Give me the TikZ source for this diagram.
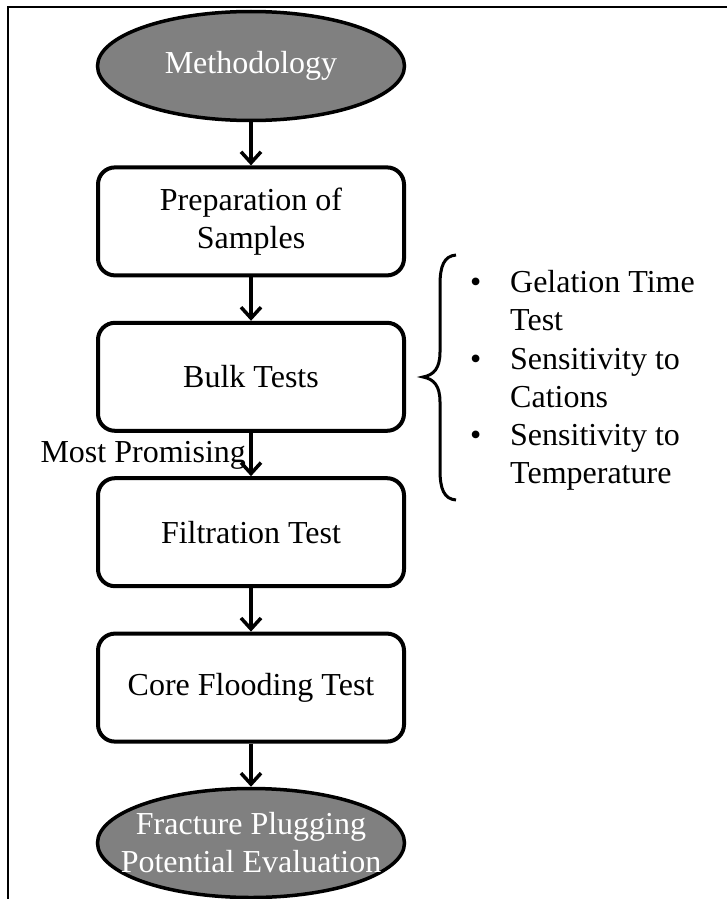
\documentclass[tikz,border=0pt]{standalone}
\usepackage{fontspec}
\setmainfont{Liberation Serif}
\usetikzlibrary{shapes.geometric, arrows.meta, positioning}
\definecolor{ovalgray}{RGB}{128,128,128}

\begin{document}
\begin{tikzpicture}[x=1pt, y=-1pt, on grid, node distance=155.4pt,
    font=\fontsize{32}{38}\selectfont,
    >={Straight Barb[length=11pt, width=20pt, line width=3.5pt]},
    oval/.style={ellipse, draw, line width=3.5pt, fill=ovalgray,
        minimum width=307pt, minimum height=109pt, inner sep=0pt},
    box/.style={rectangle, rounded corners=17pt, draw, line width=4pt,
        minimum width=306pt, minimum height=108pt, align=center},
    flow/.style={->, line width=3.5pt}]
    \useasboundingbox (0,0) rectangle (727,899);
    \draw[line width=1.5pt] (8,905) -- (8,7) -- (735,7);

    \node[oval, label={[text=white]center:Methodology}] (meth) at (251,66) {};
    \node[box, below=of meth] (prep) {Preparation of\\Samples};
    \node[box, below=of prep] (bulk) {Bulk Tests};
    \node[box, below=of bulk] (filt) {Filtration Test};
    \node[box, below=of filt] (core) {Core Flooding Test};
    \node[oval, below=of core, label={[text=white, align=center]center:Fracture Plugging\\Potential Evaluation}] (eval) {};

    \path[flow]
        (meth) edge (prep)
        (prep) edge (bulk)
        (bulk) edge node[left, yshift=-1pt] {Most Promising} (filt)
        (filt) edge (core)
        (core) edge (eval);

    % brace and list of bulk tests
    \draw[line width=3pt] (456,255) .. controls (444,256) and (440,266) .. (440,285)
        -- (440,352) .. controls (440,368) and (434,375) .. (423,377)
        .. controls (434,379) and (440,386) .. (440,402)
        -- (440,470) .. controls (440,489) and (444,499) .. (456,500);
    \node[anchor=north west, align=left, inner sep=0pt, font=\fontsize{32}{38.3}\selectfont] (tests) at (470,270)
        {\makebox[40pt][l]{\textbullet}Gelation Time\\
         \hspace*{40pt}Test\\
         \makebox[40pt][l]{\textbullet}Sensitivity to\\
         \hspace*{40pt}Cations\\
         \makebox[40pt][l]{\textbullet}Sensitivity to\\
         \hspace*{40pt}Temperature};
\end{tikzpicture}
\end{document}
